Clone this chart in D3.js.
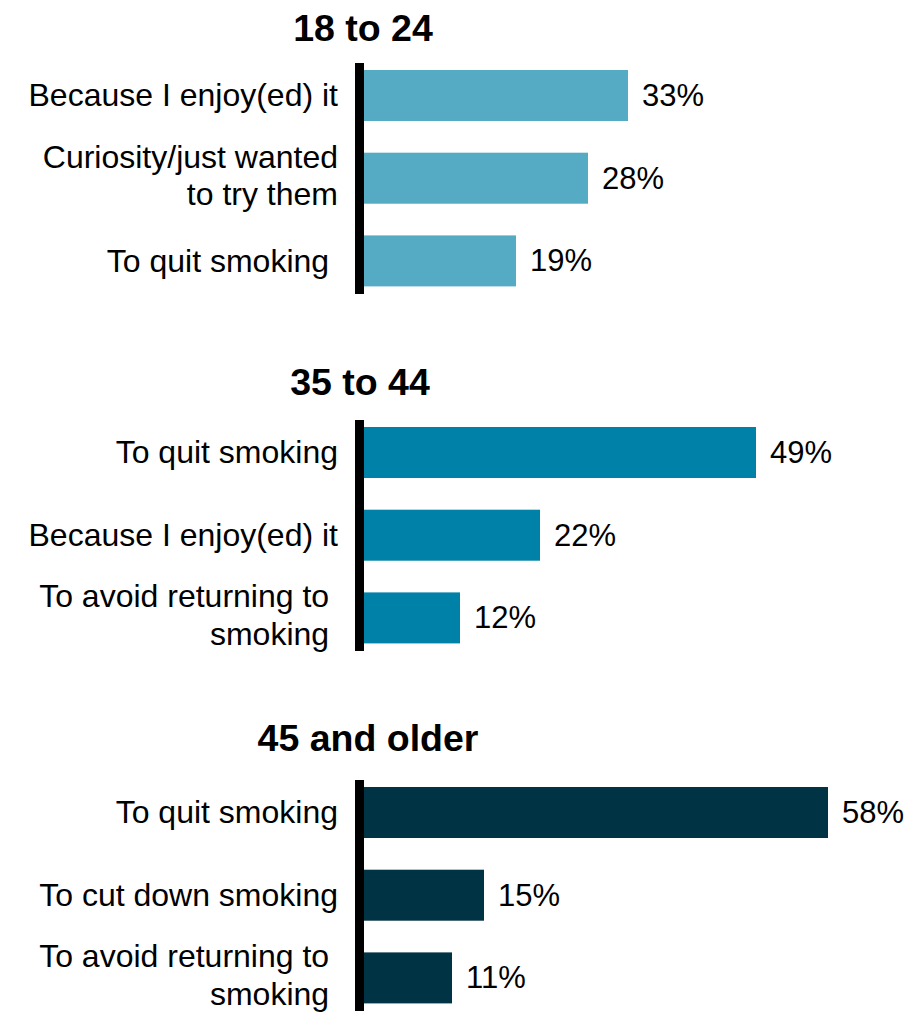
<!DOCTYPE html>
<html>
<head>
<meta charset="utf-8">
<script src="https://cdn.jsdelivr.net/npm/d3@7"></script>
<style>
  html, body { margin: 0; padding: 0; background: #ffffff; }
  svg { display: block; font-family: Arial, "Liberation Sans", sans-serif; }
  text { white-space: pre; }
</style>
</head>
<body>
<svg id="chart" width="912" height="1012"></svg>
<script>
// Age groups, in panel order
const groups = ["18 to 24", "35 to 44", "45 and older"];

// Top three reasons per age group (label lines) and their shares (%)
const reasons1824 = [["Because I enjoy(ed) it"], ["Curiosity/just wanted", "to try them"], ["To quit smoking "]];
const values1824 = [33, 28, 19];

const reasons3544 = [["To quit smoking"], ["Because I enjoy(ed) it"], ["To avoid returning to ", "smoking "]];
const values3544 = [49, 22, 12];

const reasons45 = [["To quit smoking"], ["To cut down smoking"], ["To avoid returning to ", "smoking "]];
const values45 = [58, 15, 11];

const groupColors = ["#55aac4", "#0082a8", "#003343"];

const panels = [
  { title: groups[0], reasons: reasons1824, values: values1824, color: groupColors[0] },
  { title: groups[1], reasons: reasons3544, values: values3544, color: groupColors[1] },
  { title: groups[2], reasons: reasons45, values: values45, color: groupColors[2] }
];

const svg = d3.select("#chart");

const axisX = 364;          // left edge of the bars
const axisW = 9;            // thickness of the vertical baseline
const panelTops = [63, 420, 780];
const titleOffsets = [-22, -25, -29];
const titleX = [363, 360, 368];
const panelH = 231;
const labelSize = 32;
const valueSize = 31;
const lineH = 37.7;
const step = 82.7;
const barH = 51;

// One shared value scale so bar lengths are comparable across panels
const x = d3.scaleLinear().domain([0, 58]).range([0, 464]);

panels.forEach((p, i) => {
  const top = panelTops[i];
  const g = svg.append("g").attr("transform", `translate(0,${top})`);

  const n = p.values.length;
  const y = d3.scaleBand()
    .domain(d3.range(n))
    .range([7, 7 + step * (n - 1) + barH])
    .paddingInner((step - barH) / step)
    .paddingOuter(0);

  // Panel title
  g.append("text")
    .attr("x", titleX[i])
    .attr("y", titleOffsets[i])
    .attr("text-anchor", "middle")
    .attr("font-size", 37.5)
    .attr("font-weight", "bold")
    .attr("fill", "#000")
    .text(p.title);

  // Bars
  g.selectAll("rect.bar")
    .data(p.values)
    .join("rect")
    .attr("class", "bar")
    .attr("x", axisX)
    .attr("y", (d, j) => y(j))
    .attr("width", d => x(d))
    .attr("height", y.bandwidth())
    .attr("fill", p.color);

  // Vertical baseline
  g.append("rect")
    .attr("x", axisX - axisW)
    .attr("y", 0)
    .attr("width", axisW)
    .attr("height", panelH)
    .attr("fill", "#000");

  // Category labels, right-aligned against the baseline
  p.reasons.forEach((lines, j) => {
    const cy = y(j) + y.bandwidth() / 2;
    const first = cy + 10.9 - (lines.length - 1) * 21.6;
    const t = g.append("text")
      .attr("text-anchor", "end")
      .attr("font-size", labelSize)
      .attr("fill", "#000");
    lines.forEach((ln, k) => {
      t.append("tspan")
        .attr("x", 338)
        .attr("y", first + k * lineH)
        .text(ln);
    });
  });

  // Value labels at the end of each bar
  g.selectAll("text.value")
    .data(p.values)
    .join("text")
    .attr("class", "value")
    .attr("x", d => axisX + x(d) + 14)
    .attr("y", (d, j) => y(j) + y.bandwidth() / 2 + 10.5)
    .attr("font-size", valueSize)
    .attr("fill", "#000")
    .text(d => d + "%");
});
</script>
</body>
</html>
